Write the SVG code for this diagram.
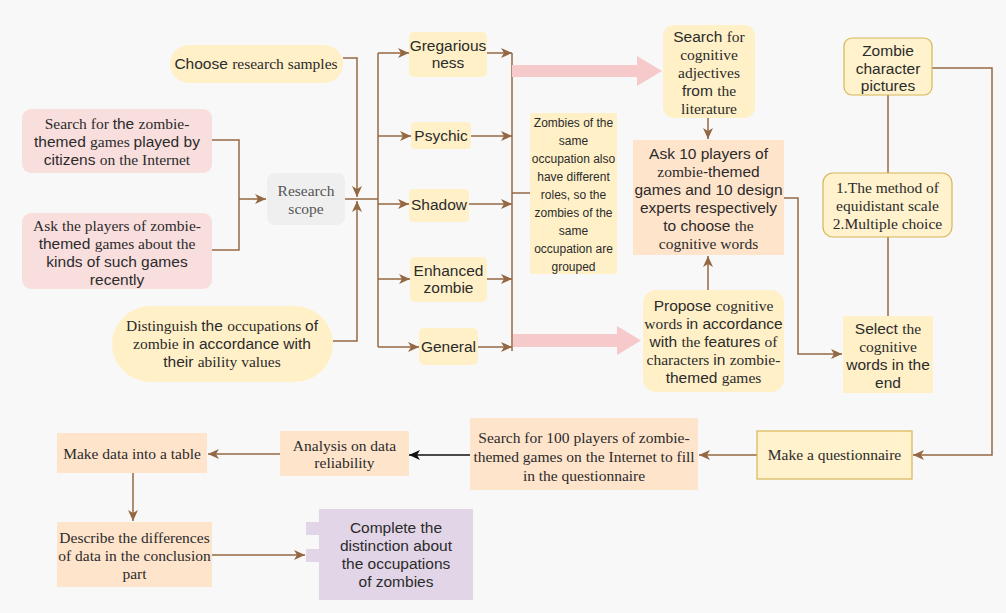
<svg xmlns="http://www.w3.org/2000/svg" width="1006" height="613" viewBox="0 0 1006 613">
<style>
text{font-size:15.5px;fill:#2b2b2b;text-anchor:middle}
.s{font-family:"Liberation Sans",Arial,sans-serif}
.t{font-family:"Liberation Serif","Times New Roman",serif}
.ts{font-family:"Liberation Serif","Times New Roman",serif}
.ss{font-family:"Liberation Sans",Arial,sans-serif}
.note{font-size:12px}
.pink{fill:#f9dede}
.yel{fill:#fff0c8}
.yelb{fill:#fff2cc;stroke:#d6b656;stroke-width:1.2}
.peach{fill:#ffe4cc}
.gray{fill:#efefef}
.purp{fill:#e1d5e7}
.ln{fill:none;stroke:#946843;stroke-width:1.5}
.la{fill:none;stroke:#946843;stroke-width:1.5;marker-end:url(#ah)}
.lk{fill:none;stroke:#111;stroke-width:1.5;marker-end:url(#ak)}
.big{fill:#f6c9cb}
</style>
<defs>
<marker id="ah" markerUnits="userSpaceOnUse" markerWidth="12" markerHeight="10" refX="11" refY="5" orient="auto"><path d="M0,0 L11,5 L0,10 L3,5 Z" fill="#946843"/></marker>
<marker id="ak" markerUnits="userSpaceOnUse" markerWidth="12" markerHeight="10" refX="11" refY="5" orient="auto"><path d="M0,0 L11,5 L0,10 L3,5 Z" fill="#111"/></marker>
</defs>
<rect x="0" y="0" width="1006" height="613" fill="#f8f8f8"/>

<g id="connectors">
<path class="la" d="M343,58 H357 V197"/>
<path class="la" d="M333,341 H357 V201"/>
<path class="ln" d="M212,140 H239 V250 H212"/>
<path class="la" d="M239,199 H266"/>
<path class="ln" d="M345,199 H378"/>
<path class="ln" d="M378,53 V347"/>
<path class="la" d="M378,53 H409"/>
<path class="la" d="M378,136 H411"/>
<path class="la" d="M378,204 H409"/>
<path class="la" d="M378,279 H410"/>
<path class="la" d="M378,347 H419"/>
<path class="la" d="M487,53 H512"/>
<path class="la" d="M471,136 H512"/>
<path class="la" d="M469,204 H512"/>
<path class="la" d="M487,279 H512"/>
<path class="la" d="M478,347 H512"/>
<path class="ln" d="M512,53 V351"/>
<path class="ln" d="M512,193 H530"/>
<polygon class="big" points="512,65 637,65 637,56 662,71 637,86 637,77 512,77"/>
<polygon class="big" points="513,334 617,334 617,326 641,340.5 617,355 617,347 513,347"/>
<path class="la" d="M708,118 V139"/>
<path class="la" d="M708,290 V256"/>
<path class="la" d="M784,198 H798 V354 H842"/>
<path class="ln" d="M888,95 V173"/>
<path class="ln" d="M888,237 V316"/>
<path class="la" d="M932,68 H992 V455 H913"/>
<path class="la" d="M757,455 H699"/>
<path class="lk" d="M470,455 H409"/>
<path class="la" d="M280,454 H208"/>
<path class="la" d="M133,473 V521"/>
<path class="la" d="M212,555 H305"/>
</g>

<g id="n-choose">
<rect class="yel" x="170" y="45" width="173" height="38" rx="19"/>
<text x="256" y="69"><tspan class="ss">Choose </tspan><tspan class="ts">research samples</tspan></text>
</g>
<g id="n-search-games">
<rect class="pink" x="22" y="109" width="190" height="64" rx="9"/>
<text x="117" y="129"><tspan class="ts">Search for </tspan><tspan class="ss">the </tspan><tspan class="ts">zombie-</tspan></text>
<text x="117" y="147"><tspan class="ss">themed </tspan><tspan class="ts">games </tspan><tspan class="ss">played by</tspan></text>
<text x="117" y="165"><tspan class="ss">citizens </tspan><tspan class="ts">on the Internet</tspan></text>
</g>
<g id="n-ask-players">
<rect class="pink" x="22" y="213" width="190" height="76" rx="9"/>
<text class="t" x="117" y="231">Ask the players of zombie-</text>
<text x="117" y="249"><tspan class="ss">themed </tspan><tspan class="ts">games about the</tspan></text>
<text class="s" x="117" y="267">kinds of such games</text>
<text class="s" x="117" y="285">recently</text>
</g>
<g id="n-scope">
<rect class="gray" x="267" y="173" width="78" height="52" rx="8"/>
<text class="t" x="306" y="196" style="fill:#555">Research</text>
<text class="t" x="306" y="214" style="fill:#555">scope</text>
</g>
<g id="n-distinguish">
<rect class="yel" x="112" y="306" width="221" height="76" rx="38"/>
<text x="222" y="331"><tspan class="ts">Distinguish </tspan><tspan class="ss">the </tspan><tspan class="ts">occupations </tspan><tspan class="ss">of</tspan></text>
<text x="222" y="349"><tspan class="ts">zombie </tspan><tspan class="ss">in accordance with</tspan></text>
<text x="222" y="367"><tspan class="ss">their </tspan><tspan class="ts">ability values</tspan></text>
</g>
<g id="n-greg">
<rect class="yel" x="409" y="32" width="78" height="45" rx="5"/>
<text class="s" x="448" y="51">Gregarious</text>
<text class="s" x="448" y="68">ness</text>
</g>
<g id="n-psychic">
<rect class="yel" x="411" y="122" width="60" height="27" rx="4"/>
<text class="s" x="441" y="141">Psychic</text>
</g>
<g id="n-shadow">
<rect class="yel" x="409" y="189" width="60" height="33" rx="4"/>
<text class="s" x="439" y="210">Shadow</text>
</g>
<g id="n-enhanced">
<rect class="yel" x="410" y="257" width="77" height="45" rx="5"/>
<text class="s" x="448.5" y="276">Enhanced</text>
<text class="s" x="448.5" y="293">zombie</text>
</g>
<g id="n-general">
<rect class="yel" x="419" y="328" width="59" height="37" rx="5"/>
<text class="s" x="448.5" y="352">General</text>
</g>
<g id="n-note">
<rect class="yel" x="530" y="113" width="87" height="161" rx="2"/>
<text class="s note" x="573.5" y="127">Zombies of the</text>
<text class="s note" x="573.5" y="145">same</text>
<text class="s note" x="573.5" y="163">occupation also</text>
<text class="s note" x="573.5" y="181">have different</text>
<text class="s note" x="573.5" y="199">roles, so the</text>
<text class="s note" x="573.5" y="217">zombies of the</text>
<text class="s note" x="573.5" y="235">same</text>
<text class="s note" x="573.5" y="253">occupation are</text>
<text class="s note" x="573.5" y="271">grouped</text>
</g>
<g id="n-search-cog">
<rect class="yel" x="663" y="25" width="92" height="93" rx="11"/>
<text x="709" y="42"><tspan class="ss">Search </tspan><tspan class="ts">for</tspan></text>
<text class="t" x="709" y="60">cognitive</text>
<text class="t" x="709" y="78">adjectives</text>
<text x="709" y="96"><tspan class="ss">from </tspan><tspan class="ts">the</tspan></text>
<text class="t" x="709" y="114">literature</text>
</g>
<g id="n-ask10">
<rect class="peach" x="633" y="140" width="151" height="115"/>
<text class="s" x="708.5" y="159">Ask 10 players of</text>
<text x="708.5" y="177"><tspan class="ts">zombie</tspan><tspan class="ss">-themed</tspan></text>
<text class="s" x="708.5" y="195">games and 10 design</text>
<text class="s" x="708.5" y="213">experts respectively</text>
<text x="708.5" y="231"><tspan class="ss">to choose </tspan><tspan class="ts">the</tspan></text>
<text class="t" x="708.5" y="249">cognitive words</text>
</g>
<g id="n-propose">
<rect class="yel" x="643" y="290" width="141" height="102" rx="13"/>
<text x="713.5" y="311"><tspan class="ss">Propose </tspan><tspan class="ts">cognitive</tspan></text>
<text x="713.5" y="329"><tspan class="ts">words </tspan><tspan class="ss">in accordance</tspan></text>
<text x="713.5" y="347"><tspan class="ss">with </tspan><tspan class="ts">the </tspan><tspan class="ss">features </tspan><tspan class="ts">of</tspan></text>
<text x="713.5" y="365"><tspan class="ts">characters </tspan><tspan class="ss">in </tspan><tspan class="ts">zombie-</tspan></text>
<text x="713.5" y="383"><tspan class="ss">themed </tspan><tspan class="ts">games</tspan></text>
</g>
<g id="n-pictures">
<rect class="yelb" x="844" y="38" width="88" height="57" rx="8"/>
<text class="s" x="888" y="56">Zombie</text>
<text class="s" x="888" y="73.5">character</text>
<text class="s" x="888" y="91">pictures</text>
</g>
<g id="n-method">
<rect class="yelb" x="823" y="173" width="129" height="64" rx="10"/>
<text class="t" x="887.5" y="193">1.The method of</text>
<text class="t" x="887.5" y="211">equidistant scale</text>
<text class="t" x="887.5" y="229">2.Multiple choice</text>
</g>
<g id="n-select">
<rect class="yel" x="843" y="316" width="90" height="77"/>
<text x="888" y="334"><tspan class="ss">Select </tspan><tspan class="ts">the</tspan></text>
<text class="t" x="888" y="352">cognitive</text>
<text class="s" x="888" y="370">words in the</text>
<text class="s" x="888" y="388">end</text>
</g>
<g id="n-questionnaire">
<rect class="yelb" x="757" y="431" width="155" height="48"/>
<text class="t" x="834.5" y="460">Make a questionnaire</text>
</g>
<g id="n-search100">
<rect class="peach" x="470" y="418" width="228" height="72"/>
<text class="t" x="584" y="443">Search for 100 players of zombie-</text>
<text class="t" x="584" y="462">themed games on the Internet to fill</text>
<text class="t" x="584" y="481">in the questionnaire</text>
</g>
<g id="n-analysis">
<rect class="peach" x="280" y="431" width="129" height="45"/>
<text class="t" x="344.5" y="451">Analysis on data</text>
<text class="t" x="344.5" y="468">reliability</text>
</g>
<g id="n-table">
<rect class="peach" x="57" y="433" width="150" height="40"/>
<text class="t" x="132" y="459">Make data into a table</text>
</g>
<g id="n-describe">
<rect class="peach" x="57" y="522" width="155" height="65"/>
<text class="t" x="134.5" y="543">Describe the differences</text>
<text class="t" x="134.5" y="561">of data in the conclusion</text>
<text class="t" x="134.5" y="579">part</text>
</g>
<g id="n-complete">
<rect class="purp" x="319" y="509" width="154" height="91"/>
<rect class="purp" x="306" y="522" width="14" height="13"/>
<rect class="purp" x="306" y="549" width="14" height="13"/>
<text class="s" x="396" y="533">Complete the</text>
<text class="s" x="396" y="551">distinction about</text>
<text class="s" x="396" y="569">the occupations</text>
<text class="s" x="396" y="587">of zombies</text>
</g>
</svg>
